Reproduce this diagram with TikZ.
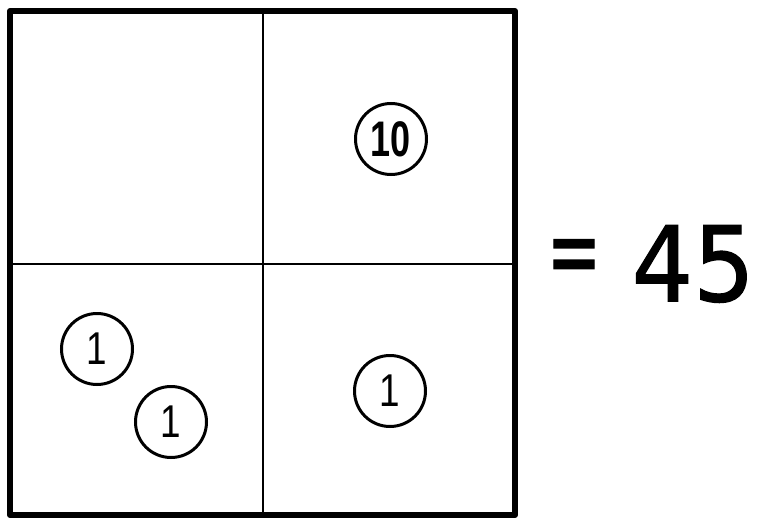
\documentclass[tikz,border=0pt]{standalone}
\usepackage{fontspec}
\setmainfont{Liberation Sans}
\newfontfamily\eqfont[FakeBold=1.2]{DejaVu Sans}
\begin{document}
\begin{tikzpicture}[x=1pt,y=-1pt,
  coin/.style={circle,draw=black,line width=3pt,minimum size=71pt,inner sep=0pt},
  eqtext/.style={inner sep=0pt,font=\eqfont\fontsize{104}{104}\selectfont},
]
\useasboundingbox (0,0) rectangle (760,519);
\fill[white] (0,0) rectangle (760,519);
\coordinate (tl) at (10,11);
\coordinate (br) at (515,515);
\coordinate (vt) at (263,11);
\coordinate (vb) at (263,515);
\coordinate (hl) at (10,264);
\coordinate (hr) at (515,264);
\draw[line width=2.8pt] (vt) -- (vb);
\draw[line width=2.8pt] (hl) -- (hr);
\draw[line width=6pt,line join=round] (tl) rectangle (br);
\node[coin] (c10) at (391,139) {\scalebox{0.72}[1]{\fontsize{50}{50}\selectfont\bfseries 10}};
\node[coin] (c1a) at (97,349) {\scalebox{0.8}[1]{\fontsize{46}{46}\selectfont 1}};
\node[coin] (c1b) at (171,422) {\scalebox{0.8}[1]{\fontsize{46}{46}\selectfont 1}};
\node[coin] (c1c) at (390,391) {\scalebox{0.8}[1]{\fontsize{46}{46}\selectfont 1}};
\node[eqtext] (eqs) at (574,263) {\scalebox{0.62}[1]{=}};
\node[eqtext,anchor=east] (num) at (755,264) {\scalebox{0.93}[1]{45}};
\end{tikzpicture}
\end{document}
